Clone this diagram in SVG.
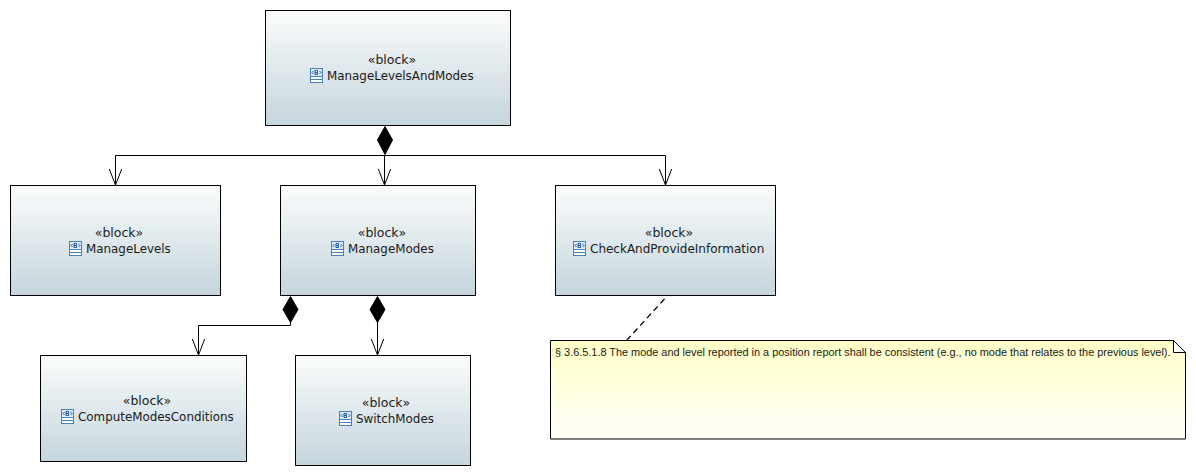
<svg xmlns="http://www.w3.org/2000/svg" xmlns:xlink="http://www.w3.org/1999/xlink" width="1196" height="476" viewBox="0 0 1196 476">
<style>
.box{fill:url(#blockFill);stroke:#000;stroke-width:1}
.lbl{font-family:"DejaVu Sans",sans-serif;font-size:11.9px;fill:#1a1a1a}
.mid{text-anchor:middle;font-size:12.500px}
.wire{fill:none;stroke:#000;stroke-width:1}
.head{fill:none;stroke:#000;stroke-width:1}
.dia{fill:#000;stroke:#000;stroke-width:1}
.note{font-family:"Liberation Sans",Arial,sans-serif;font-size:10.9px;fill:#1a1a1a}
</style>
<defs>
<linearGradient id="blockFill" x1="0" y1="0" x2="0" y2="1"><stop offset="0" stop-color="#fbfcfc"/><stop offset="1" stop-color="#c4d5dc"/></linearGradient>
<linearGradient id="noteFill" x1="0" y1="0" x2="0" y2="1"><stop offset="0" stop-color="#ffffc8"/><stop offset="1" stop-color="#fffff8"/></linearGradient>
<g id="ico">
<rect x="0.500" y="0.500" width="12" height="14" fill="#fff" stroke="#4a80bd"/>
<rect x="1" y="1" width="11" height="7" fill="#dfeaf5"/>
<path d="M0.500 8.500H12.500M0.500 11.500H12.500" stroke="#4a80bd" fill="none"/>
<path d="M3.500 3L2 4.500L3.500 6M9.500 3L11 4.500L9.500 6M5 2.500V6.500H7.500V4.500H5M5 2.500H7.500V4.500" stroke="#1f5aa6" stroke-width="1" fill="none"/>
</g>
</defs>
<rect width="1196" height="476" fill="#fff"/>
<g id="connectors">
<path class="wire" d="M384.500 155.500V185M115.500 185V155.500H665.500V185"/>
<path class="dia" d="M385 126.500L392.500 140L385 154.500L377.500 140Z"/>
<path class="head" d="M109.300 169L115.500 185L121.700 169M378.300 169L384.500 185L390.700 169M659.300 169L665.500 185L671.700 169"/>
<path class="wire" d="M290.500 320V325.500H198.500V355"/>
<path class="dia" d="M290.500 296.500L298 309.500L290.500 322.500L283 309.500Z"/>
<path class="head" d="M192.300 339L198.500 355L204.700 339"/>
<path class="wire" d="M377.500 320V355"/>
<path class="dia" d="M377.500 296.500L385 309.500L377.500 322.500L370 309.500Z"/>
<path class="head" d="M371.300 339L377.500 355L383.700 339"/>
<path d="M664.500 299L627 340" fill="none" stroke="#000" stroke-width="1.300" stroke-dasharray="6 4"/>
</g>
<g id="ManageLevelsAndModes">
<rect class="box" x="265.500" y="10.500" width="245" height="115"/>
<text class="lbl mid" x="392" y="64">«block»</text>
<use xlink:href="#ico" href="#ico" x="310" y="68"/>
<text class="lbl" x="327" y="80">ManageLevelsAndModes</text>
</g>
<g id="ManageLevels">
<rect class="box" x="10.500" y="185.500" width="210" height="110"/>
<text class="lbl mid" x="119" y="237">«block»</text>
<use xlink:href="#ico" href="#ico" x="69" y="241"/>
<text class="lbl" x="86" y="253">ManageLevels</text>
</g>
<g id="ManageModes">
<rect class="box" x="280.500" y="185.500" width="195" height="110"/>
<text class="lbl mid" x="382" y="237">«block»</text>
<use xlink:href="#ico" href="#ico" x="331" y="241"/>
<text class="lbl" x="348" y="253">ManageModes</text>
</g>
<g id="CheckAndProvideInformation">
<rect class="box" x="555.500" y="185.500" width="220" height="110"/>
<text class="lbl mid" x="669" y="237">«block»</text>
<use xlink:href="#ico" href="#ico" x="573" y="241"/>
<text class="lbl" x="590" y="253" style="font-size:12px">CheckAndProvideInformation</text>
</g>
<g id="ComputeModesConditions">
<rect class="box" x="40.500" y="355.500" width="206" height="106"/>
<text class="lbl mid" x="147" y="405">«block»</text>
<use xlink:href="#ico" href="#ico" x="61" y="409"/>
<text class="lbl" x="78" y="421">ComputeModesConditions</text>
</g>
<g id="SwitchModes">
<rect class="box" x="295.500" y="355.500" width="175" height="110"/>
<text class="lbl mid" x="386" y="407">«block»</text>
<use xlink:href="#ico" href="#ico" x="339" y="411"/>
<text class="lbl" x="356" y="423">SwitchModes</text>
</g>
<g id="Note">
<path d="M550.500 340.500H1173.500L1185.500 352.500V439H550.500Z" fill="url(#noteFill)" stroke="#000"/>
<path d="M1173.500 340.500V352.500H1185.500L1173.500 340.500Z" fill="#fff" stroke="#000"/>
<text class="note" x="555" y="356">§ 3.6.5.1.8 The mode and level reported in a position report shall be consistent (e.g., no mode that relates to the previous level).</text>
</g>
</svg>
